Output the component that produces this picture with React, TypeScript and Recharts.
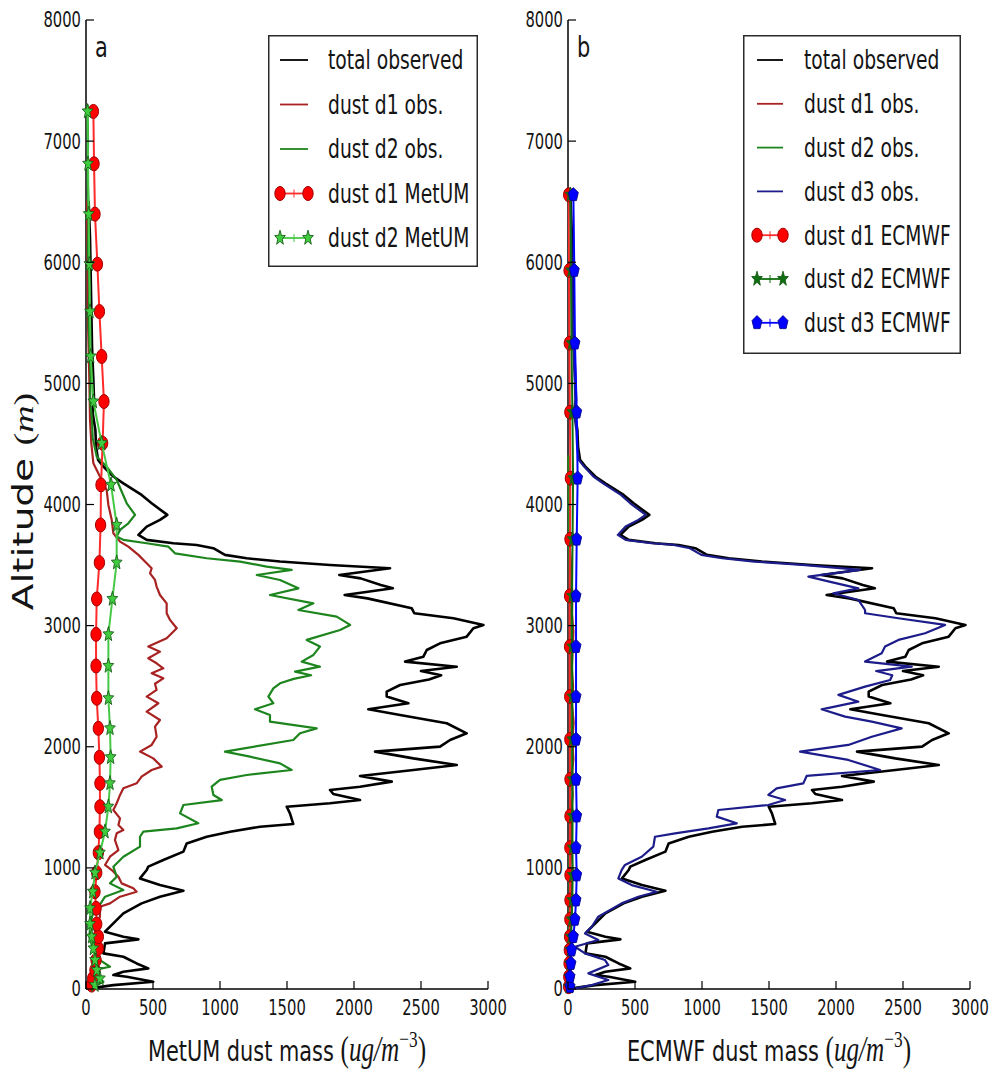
import React from 'react';
import { ScatterChart, Scatter, XAxis, YAxis, Legend } from 'recharts';

// ---------------- data ----------------
const xTickValues = [0, 500, 1000, 1500, 2000, 2500, 3000];
const yTickValues = [0, 1000, 2000, 3000, 4000, 5000, 6000, 7000, 8000];

// total observed (same in both panels)
const totalObsAlt = [5,32,60,101,115,142,170,211,266,294,377,410,432,473,542,624,707,762,812,858,913,982,1010,1065,1134,1202,1257,1299,1340,1362,1450,1505,1533,1560,1610,1643,1670,1712,1759,1808,1849,1904,1960,2001,2056,2111,2194,2262,2309,2359,2414,2455,2510,2555,2590,2625,2661,2703,2744,2799,2854,2909,2978,3006,3061,3102,3143,3225,3253,3308,3336,3390,3418,3474,3501,3529,3556,3584,3639,3666,3680,3708,3749,3818,3873,3914,4010,4079,4175,4231,4313,4368,4478,4616,4754,4864,5029,5300,5600,5900,6200,6500];
const totalObsVal = [30,204,502,304,204,279,465,378,279,130,142,391,279,142,204,279,415,552,727,552,403,453,465,577,727,751,901,1075,1299,1547,1522,1498,1821,2045,1846,1821,2045,2282,2045,2443,2767,2443,2157,2642,2717,2841,2692,2344,2107,2406,2244,2244,2344,2560,2650,2500,2767,2381,2518,2543,2642,2841,2891,2966,2742,2450,2431,2100,1930,2290,2200,2050,1890,2269,1821,1448,1199,1037,950,826,652,453,391,453,552,607,490,415,279,204,130,90,75,70,50,60,55,45,40,35,30,20];

// panel a : MetUM size bins (observed)
const d1ObsAlt = [5,74,211,349,487,597,679,707,762,803,831,872,927,982,1024,1092,1147,1230,1285,1313,1354,1409,1478,1533,1602,1657,1698,1753,1808,1836,1904,1960,2015,2083,2166,2221,2290,2359,2414,2469,2520,2565,2606,2648,2689,2730,2785,2827,2895,2978,3047,3102,3184,3253,3322,3377,3432,3474,3529,3584,3652,3694,3763,3873,3996,4120,4231,4341,4500,4700,5029,5500,6000,6500];
const d1ObsVal = [30,55,55,67,67,104,104,179,254,378,353,266,242,192,142,179,242,216,229,279,242,254,204,229,254,279,378,415,490,565,502,403,490,527,515,552,453,540,453,527,515,577,490,577,527,465,552,465,602,677,627,602,602,552,527,515,478,490,440,391,316,254,204,192,167,154,104,55,40,30,25,15,12,8];

const d2ObsAlt = [5,60,100,156,184,239,300,432,500,597,650,707,762,817,872,927,1010,1092,1175,1257,1299,1326,1368,1450,1519,1560,1602,1670,1726,1767,1808,1863,1918,1960,2056,2111,2152,2207,2262,2309,2359,2414,2482,2524,2560,2590,2620,2661,2703,2758,2827,2882,2964,3006,3074,3129,3184,3253,3308,3377,3418,3460,3487,3529,3556,3597,3652,3680,3708,3735,3790,3845,3914,4010,4107,4203,4313,4396,4550,4700,4864,5029,5200,5500,5800,6100,6400,6700,7000,7300];
const d2ObsVal = [30,130,80,55,179,104,60,25,30,45,60,110,142,279,179,229,204,279,403,403,428,677,838,702,727,1013,951,938,1000,1199,1535,1448,1224,1037,1547,1597,1722,1373,1373,1261,1398,1361,1398,1448,1550,1680,1560,1746,1610,1697,1746,1647,1896,1971,1871,1585,1697,1373,1585,1448,1274,1535,1348,1150,901,664,615,453,279,229,254,316,366,304,266,229,154,80,50,45,30,35,30,20,25,15,20,12,15,10];

// panel a : MetUM model
const metumAlt = [32,87,156,239,335,432,536,666,803,960,1125,1299,1505,1698,1913,2152,2400,2667,2928,3220,3520,3831,4162,4506,4850,5222,5593,5984,6397,6813,7245];
const metumD1 = [42,50,67,75,92,92,80,75,67,80,92,100,104,104,100,92,80,75,75,80,100,109,112,124,134,117,100,85,67,60,55];
const metumD2 = [67,104,80,67,55,42,30,30,50,67,104,142,167,179,184,179,167,167,167,197,229,229,187,117,55,35,30,25,20,15,12];

// panel b : ECMWF size bins (observed)
const ecObsAlt = [0,150,300,450,600,750,850,1000,1150,1300,1450,1600,1750,1900,2050,2200,2350,2500,2650,2800,2950,3100,3250,3400,3550,3700,3850,4000,4200,4400];
const ecD1ObsVal = [5,10,8,12,15,30,22,18,25,30,22,35,28,40,32,42,30,38,28,35,40,30,33,25,20,12,10,8,6,5];
const ecD2ObsVal = [3,6,5,7,9,15,12,10,14,16,12,18,15,20,17,21,16,19,15,18,21,16,17,13,10,7,6,5,4,3];

const d3ObsAlt = [5,32,74,129,198,239,294,349,404,459,514,597,707,762,803,858,913,982,1024,1092,1175,1257,1285,1326,1368,1423,1478,1519,1560,1602,1657,1698,1759,1808,1891,1960,2015,2083,2152,2207,2249,2309,2372,2428,2496,2551,2590,2625,2661,2703,2772,2827,2882,2937,3006,3061,3102,3129,3212,3267,3308,3363,3405,3460,3501,3529,3556,3584,3639,3666,3680,3708,3749,3818,3873,3914,4010,4079,4175,4231,4313,4368,4478,4616,4754,4864,5029,5300,5600,5900,6200,6500];
const d3ObsVal = [52,177,301,152,301,276,127,52,226,127,177,226,400,525,662,475,376,400,425,550,637,649,799,1048,1259,1110,1122,1495,1620,1495,1557,1756,1781,2329,2092,1732,2092,2267,2490,2267,2068,1893,2167,2018,2217,2404,2420,2300,2565,2217,2341,2366,2466,2665,2814,2466,2217,2217,2167,1980,2167,1950,1794,2180,1750,1390,1150,995,910,790,625,430,372,430,525,580,465,395,262,190,120,80,68,62,45,55,50,40,35,30,25,15];

// panel b : ECMWF model
const ecmwfAlt = [19,101,211,322,432,575,734,941,1167,1428,1731,2061,2414,2827,3245,3713,4217,4762,5332,5932,6557];
const ecmwfD1 = [5,6,8,10,12,14,15,15,14,15,15,14,13,12,12,15,18,14,10,8,5];
const ecmwfD2 = [8,10,14,18,22,28,32,35,33,34,33,32,32,31,30,34,38,33,26,22,18];
const ecmwfD3 = [15,15,22,27,40,52,60,65,60,65,60,60,60,60,60,65,72,65,52,47,40];

const legendLabelsA = ['total observed', 'dust d1 obs.', 'dust d2 obs.', 'dust d1 MetUM', 'dust d2 MetUM'];
const legendLabelsB = ['total observed', 'dust d1 obs.', 'dust d2 obs.', 'dust d3 obs.', 'dust d1 ECMWF', 'dust d2 ECMWF', 'dust d3 ECMWF'];

// ---------------- style ----------------
const SX = 0.72;
const SANS = "'DejaVu Sans', 'Noto Sans', sans-serif";
const SERIF = "'Liberation Serif', 'DejaVu Serif', serif";
const TXT = '#141414';

const C = {
  black: '#000000',
  d1obs: '#a82222',
  d2obs: '#1d851d',
  d3obs: '#1c1c8a',
  redLine: '#ff2a2a',
  red: '#ff0000',
  redEdge: '#a00000',
  lightGreenLine: '#46c846',
  lightGreen: '#3fcc3f',
  greenEdge: '#1a5e1a',
  darkGreen: '#0f6e0f',
  blue: '#0000ff',
  blueEdge: '#00008b',
};

type Pt = { x: number; y: number };
const pts = (alt: number[], val: number[]): Pt[] =>
  alt.map((a, i) => ({ x: val[i], y: a })).filter((p) => p.x !== undefined);

// ---------------- markers ----------------
const polyPts = (cx: number, cy: number, n: number, rOut: number, rIn: number | null) => {
  const out: string[] = [];
  const count = rIn === null ? n : n * 2;
  for (let i = 0; i < count; i++) {
    const ang = -Math.PI / 2 + (i * 2 * Math.PI) / count;
    const r = rIn === null ? rOut : i % 2 === 0 ? rOut : rIn;
    out.push(`${cx + r * Math.cos(ang) * SX},${cy + r * Math.sin(ang)}`);
  }
  return out.join(' ');
};

const NoMark = () => <g />;
const circleShape = (fill: string, edge: string) => (p: any) =>
  <ellipse cx={p.cx} cy={p.cy} rx={7.2 * SX} ry={7.0} fill={fill} stroke={edge} strokeWidth={1} />;
const starShape = (fill: string, edge: string) => (p: any) =>
  <polygon points={polyPts(p.cx, p.cy, 5, 7.8, 3.3)} fill={fill} stroke={edge} strokeWidth={0.9} />;
const pentShape = (fill: string, edge: string) => (p: any) =>
  <polygon points={polyPts(p.cx, p.cy, 5, 7.2, null)} fill={fill} stroke={edge} strokeWidth={0.9} />;

// connecting line drawn from the points Recharts computes
const makeLine = (color: string, width: number) => (lp: any) => (
  <polyline
    points={(lp.points || []).map((p: any) => `${p.x},${p.y}`).join(' ')}
    fill="none" stroke={color} strokeWidth={width} strokeLinejoin="round" strokeLinecap="round" />
);

// ---------------- text helpers ----------------
const SText = ({ x, y, size, anchor = 'start', dy, children }: any) => (
  <text transform={`translate(${x},${y}) scale(${SX},1)`} fontSize={size} textAnchor={anchor}
    fontFamily={SANS} fill={TXT} dy={dy}>{children}</text>
);

const BottomTick = (props: any) => {
  const { x, y, payload } = props;
  const ay = y - 26;
  return (
    <g>
      <line x1={x} x2={x} y1={ay} y2={ay - 8} stroke="#000" strokeWidth={1.2} />
      <SText x={x} y={y} size={20.5} anchor="middle">{payload.value}</SText>
    </g>
  );
};
const TopTick = (props: any) => {
  const { x, y } = props;
  return <line x1={x} x2={x} y1={y} y2={y + 8} stroke="#000" strokeWidth={1.2} />;
};
const LeftTick = (props: any) => {
  const { x, y, payload } = props;
  const ax = x + 5;
  return (
    <g>
      <line x1={ax} x2={ax + 8} y1={y} y2={y} stroke="#000" strokeWidth={1.2} />
      <SText x={x} y={y} size={20.5} anchor="end" dy="0.36em">{payload.value}</SText>
    </g>
  );
};
const RightTick = (props: any) => {
  const { x, y } = props;
  return <line x1={x} x2={x - 8} y1={y} y2={y} stroke="#000" strokeWidth={1.2} />;
};

const XTitle = ({ viewBox, text }: any) => {
  if (!viewBox) return null;
  const cx = viewBox.x + viewBox.width / 2;
  const by = viewBox.y + 72;
  return (
    <text transform={`translate(${cx},${by}) scale(${SX},1)`} textAnchor="middle" fontFamily={SANS} fontSize={29} fill={TXT}>
      {text + ' '}
      <tspan fontFamily={SERIF} fontSize={35}>(</tspan>
      <tspan fontFamily={SERIF} fontStyle="italic" fontSize={35}>ug/m</tspan>
      <tspan fontFamily={SERIF} fontSize={24} dy={-14}>−3</tspan>
      <tspan fontFamily={SERIF} fontSize={35} dy={14}>)</tspan>
    </text>
  );
};

const LeftDecor = ({ viewBox, letter, showTitle }: any) => {
  if (!viewBox) return null;
  const plotLeft = viewBox.x + viewBox.width;
  const cy = viewBox.y + viewBox.height / 2 - 3;
  return (
    <g>
      <SText x={plotLeft + 9} y={viewBox.y + 37} size={29}>{letter}</SText>
      {showTitle ? (
        <text transform={`translate(${viewBox.x + 7},${cy}) scale(${SX},1) rotate(-90)`} textAnchor="middle"
          fontFamily={SANS} fontSize={39} fill={TXT}>
          {'Altitude '}
          <tspan fontFamily={SERIF} fontSize={38}>(</tspan>
          <tspan fontFamily={SERIF} fontStyle="italic" fontSize={38}>m</tspan>
          <tspan fontFamily={SERIF} fontSize={38}>)</tspan>
        </text>
      ) : null}
    </g>
  );
};

// ---------------- legend ----------------
type Row = { label: string; color: string; width: number; marker?: (p: any) => any };

const LegendBox = ({ rows, w, h, lx0, lx1, tx, y0, step }: any) => (
  <svg width={w} height={h} style={{ display: 'block' }}>
    <rect x={0.75} y={0.75} width={w - 1.5} height={h - 1.5} fill="#fff" stroke="#2a2a2a" strokeWidth={1.5} />
    {rows.map((r: Row, i: number) => {
      const y = y0 + i * step;
      const mid = (lx0 + lx1) / 2;
      return (
        <g key={i}>
          <line x1={lx0} x2={lx1} y1={y} y2={y} stroke={r.color} strokeWidth={r.width} />
          {r.marker ? (
            <g>
              <line x1={mid} x2={mid} y1={y - 4} y2={y + 4} stroke={r.color} strokeWidth={1} />
              {r.marker({ cx: lx0, cy: y })}
              {r.marker({ cx: lx1, cy: y })}
            </g>
          ) : null}
          <SText x={tx} y={y} size={26} dy="0.36em">{r.label}</SText>
        </g>
      );
    })}
  </svg>
);

// ---------------- series ----------------
type Series = { name: string; data: Pt[]; color: string; width: number; shape: any; fill: string };

const seriesA: Series[] = [
  { name: 'total', data: pts(totalObsAlt, totalObsVal), color: C.black, width: 2.6, shape: NoMark, fill: C.black },
  { name: 'd1obs', data: pts(d1ObsAlt, d1ObsVal), color: C.d1obs, width: 2.2, shape: NoMark, fill: C.d1obs },
  { name: 'd2obs', data: pts(d2ObsAlt, d2ObsVal), color: C.d2obs, width: 2.2, shape: NoMark, fill: C.d2obs },
  { name: 'd1mod', data: pts(metumAlt, metumD1), color: C.redLine, width: 2, shape: circleShape(C.red, C.redEdge), fill: C.red },
  { name: 'd2mod', data: pts(metumAlt, metumD2), color: C.lightGreenLine, width: 2, shape: starShape(C.lightGreen, C.greenEdge), fill: C.lightGreen },
];

const seriesB: Series[] = [
  { name: 'total', data: pts(totalObsAlt, totalObsVal), color: C.black, width: 2.6, shape: NoMark, fill: C.black },
  { name: 'd1obs', data: pts(ecObsAlt, ecD1ObsVal), color: C.d1obs, width: 2.2, shape: NoMark, fill: C.d1obs },
  { name: 'd2obs', data: pts(ecObsAlt, ecD2ObsVal), color: C.d2obs, width: 2.2, shape: NoMark, fill: C.d2obs },
  { name: 'd3obs', data: pts(d3ObsAlt, d3ObsVal), color: C.d3obs, width: 2.2, shape: NoMark, fill: C.d3obs },
  { name: 'd1mod', data: pts(ecmwfAlt, ecmwfD1), color: C.redLine, width: 2, shape: circleShape(C.red, C.redEdge), fill: C.red },
  { name: 'd2mod', data: pts(ecmwfAlt, ecmwfD2), color: C.darkGreen, width: 2, shape: starShape(C.darkGreen, C.greenEdge), fill: C.darkGreen },
  { name: 'd3mod', data: pts(ecmwfAlt, ecmwfD3), color: C.blue, width: 2, shape: pentShape(C.blue, C.blueEdge), fill: C.blue },
];

const rowsA: Row[] = [
  { label: legendLabelsA[0], color: C.black, width: 1.8 },
  { label: legendLabelsA[1], color: C.d1obs, width: 1.8 },
  { label: legendLabelsA[2], color: C.d2obs, width: 1.8 },
  { label: legendLabelsA[3], color: C.redLine, width: 1.8, marker: circleShape(C.red, C.redEdge) },
  { label: legendLabelsA[4], color: C.lightGreenLine, width: 1.8, marker: starShape(C.lightGreen, C.greenEdge) },
];
const rowsB: Row[] = [
  { label: legendLabelsB[0], color: C.black, width: 1.8 },
  { label: legendLabelsB[1], color: C.d1obs, width: 1.8 },
  { label: legendLabelsB[2], color: C.d2obs, width: 1.8 },
  { label: legendLabelsB[3], color: C.d3obs, width: 1.8 },
  { label: legendLabelsB[4], color: C.redLine, width: 1.8, marker: circleShape(C.red, C.redEdge) },
  { label: legendLabelsB[5], color: C.darkGreen, width: 1.8, marker: starShape(C.darkGreen, C.greenEdge) },
  { label: legendLabelsB[6], color: C.blue, width: 1.8, marker: pentShape(C.blue, C.blueEdge) },
];

// ---------------- panel ----------------
const CW = 530;
const Panel = ({ left, margin, series, xTitle, letter, showYTitle, legend }: any) => (
  <div style={{ position: 'absolute', left, top: 0, width: CW, height: 1069 }}>
    <ScatterChart width={CW} height={1069} margin={margin}>
      <XAxis xAxisId="b" type="number" dataKey="x" domain={[0, 3000]} ticks={xTickValues} interval={0}
        tickLine={false} tickSize={0} tickMargin={26} height={40}
        axisLine={{ stroke: '#000', strokeWidth: 1.5 }} tick={<BottomTick />}
        label={<XTitle text={xTitle} />} />
      <XAxis xAxisId="t" orientation="top" type="number" domain={[0, 3000]} ticks={xTickValues} interval={0}
        tickLine={false} tickSize={0} tickMargin={0} height={0}
        axisLine={{ stroke: '#000', strokeWidth: 1.5 }} tick={<TopTick />} />
      <YAxis yAxisId="l" type="number" dataKey="y" domain={[0, 8000]} ticks={yTickValues} interval={0}
        tickLine={false} tickSize={0} tickMargin={5} width={60}
        axisLine={{ stroke: '#000', strokeWidth: 1.5 }} tick={<LeftTick />}
        label={<LeftDecor letter={letter} showTitle={showYTitle} />} />
      <YAxis yAxisId="r" orientation="right" type="number" domain={[0, 8000]} ticks={yTickValues} interval={0}
        tickLine={false} tickSize={0} tickMargin={0} width={0}
        axisLine={{ stroke: '#000', strokeWidth: 1.5 }} tick={<RightTick />} />
      {series.map((s: Series) => (
        <Scatter key={s.name} name={s.name} xAxisId="b" yAxisId="l" data={s.data} fill={s.fill}
          line={makeLine(s.color, s.width)} lineType="joint"
          shape={s.shape} isAnimationActive={false} />
      ))}
      <Legend layout="vertical" align="center" verticalAlign="middle"
        wrapperStyle={{ left: legend.left, top: legend.top, width: legend.w, height: legend.h }}
        content={() => <LegendBox {...legend} />} />
    </ScatterChart>
  </div>
);

export default function App() {
  return (
    <div style={{ position: 'absolute', left: 0, top: 0, width: 993, height: 1069, background: '#fff', overflow: 'hidden' }}>
      <Panel left={0} margin={{ top: 20, right: CW - 488, bottom: 40, left: 26 }} series={seriesA}
        xTitle="MetUM dust mass" letter="a" showYTitle
        legend={{ rows: rowsA, left: 268, top: 35, w: 210, h: 232, lx0: 12, lx1: 40, tx: 60, y0: 25, step: 44.5 }} />
      <Panel left={493} margin={{ top: 20, right: CW - 477, bottom: 40, left: 15 }} series={seriesB}
        xTitle="ECMWF dust mass" letter="b" showYTitle={false}
        legend={{ rows: rowsB, left: 250, top: 35, w: 218, h: 319, lx0: 14, lx1: 40, tx: 61, y0: 25, step: 43.8 }} />
    </div>
  );
}
